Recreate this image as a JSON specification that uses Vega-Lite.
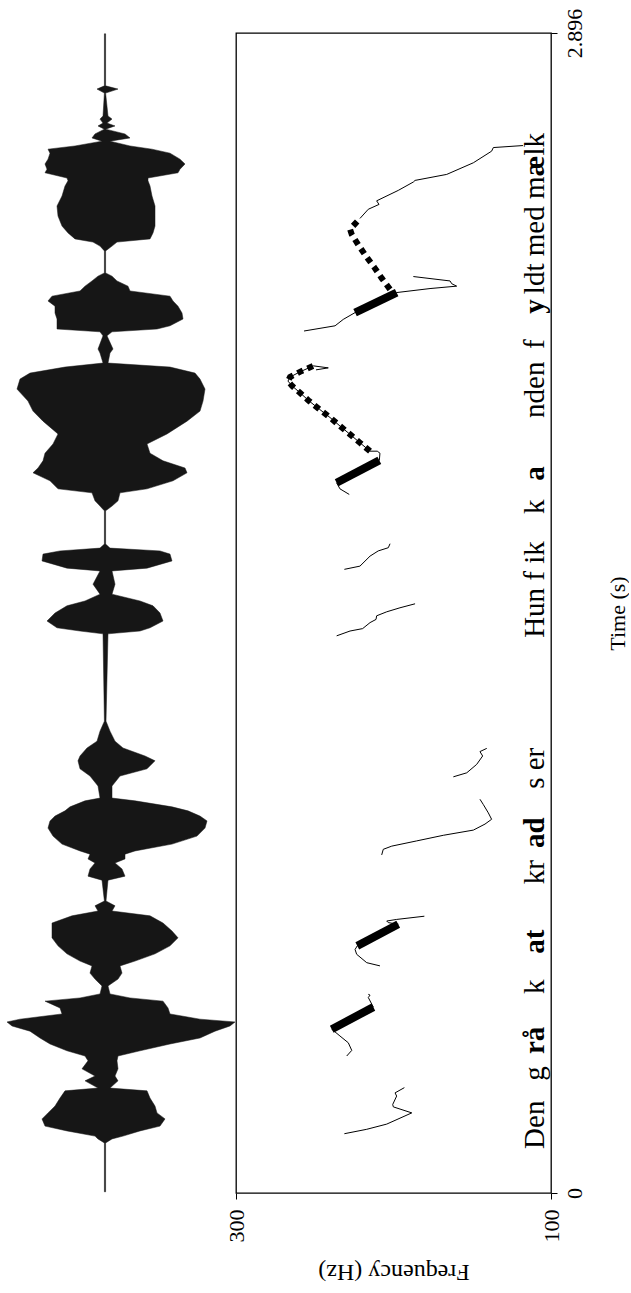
{
  "$schema": "https://vega.github.io/schema/vega-lite/v6.json",
  "padding": {"left": 0, "top": 7, "right": 0, "bottom": 0},
  "background": "white",
  "config": {
    "font": "Liberation Serif",
    "axis": {"labelFont": "Liberation Serif", "titleFont": "Liberation Serif", "labelColor": "black", "titleColor": "black", "tickColor": "black", "domainColor": "black", "titleFontWeight": "normal"}
  },
  "datasets": {
    "wave": [
      {"t":2.894,"lo":-0.6,"hi":0.6},{"t":2.764,"lo":-0.6,"hi":0.6},{"t":2.756,"lo":-8,"hi":13},{"t":2.746,"lo":-0.6,"hi":0.6},
      {"t":2.689,"lo":-2,"hi":3},{"t":2.681,"lo":-5,"hi":7},{"t":2.671,"lo":-2,"hi":2},{"t":2.664,"lo":-7,"hi":10},
      {"t":2.656,"lo":-0.6,"hi":0.6},{"t":2.644,"lo":-10,"hi":20},{"t":2.634,"lo":-13,"hi":25},{"t":2.626,"lo":-3,"hi":5},
      {"t":2.614,"lo":-30,"hi":25},{"t":2.606,"lo":-57,"hi":47},{"t":2.596,"lo":-55,"hi":65},{"t":2.581,"lo":-57,"hi":75},
      {"t":2.569,"lo":-60,"hi":80},{"t":2.556,"lo":-58,"hi":75},{"t":2.547,"lo":-60,"hi":73},{"t":2.534,"lo":-38,"hi":43},
      {"t":2.527,"lo":-37,"hi":43},{"t":2.514,"lo":-40,"hi":45},{"t":2.489,"lo":-43,"hi":47},{"t":2.464,"lo":-48,"hi":50},
      {"t":2.439,"lo":-47,"hi":50},{"t":2.414,"lo":-43,"hi":50},{"t":2.397,"lo":-37,"hi":48},{"t":2.382,"lo":-30,"hi":45},
      {"t":2.374,"lo":-12,"hi":12},{"t":2.364,"lo":-5,"hi":7},{"t":2.352,"lo":-0.6,"hi":0.6},{"t":2.297,"lo":-0.6,"hi":0.6},
      {"t":2.289,"lo":-7,"hi":7},{"t":2.277,"lo":-13,"hi":12},{"t":2.264,"lo":-20,"hi":23},{"t":2.252,"lo":-25,"hi":25},
      {"t":2.239,"lo":-53,"hi":65},{"t":2.227,"lo":-57,"hi":68},{"t":2.214,"lo":-50,"hi":73},{"t":2.197,"lo":-50,"hi":77},
      {"t":2.182,"lo":-48,"hi":78},{"t":2.165,"lo":-48,"hi":65},{"t":2.157,"lo":-48,"hi":52},{"t":2.150,"lo":-5,"hi":7},
      {"t":2.140,"lo":-2,"hi":2},{"t":2.107,"lo":-7,"hi":8},{"t":2.097,"lo":-5,"hi":5},{"t":2.072,"lo":-2,"hi":3},
      {"t":2.062,"lo":-40,"hi":65},{"t":2.047,"lo":-75,"hi":90},{"t":2.032,"lo":-85,"hi":95},{"t":2.007,"lo":-88,"hi":100},
      {"t":1.977,"lo":-77,"hi":98},{"t":1.952,"lo":-72,"hi":95},{"t":1.927,"lo":-62,"hi":82},{"t":1.895,"lo":-47,"hi":62},
      {"t":1.870,"lo":-52,"hi":42},{"t":1.847,"lo":-60,"hi":45},{"t":1.828,"lo":-62,"hi":58},{"t":1.810,"lo":-67,"hi":80},
      {"t":1.798,"lo":-72,"hi":82},{"t":1.778,"lo":-55,"hi":68},{"t":1.758,"lo":-47,"hi":42},{"t":1.748,"lo":-13,"hi":15},
      {"t":1.728,"lo":-10,"hi":13},{"t":1.715,"lo":-5,"hi":7},{"t":1.703,"lo":-0.6,"hi":0.6},{"t":1.620,"lo":-0.6,"hi":0.6},
      {"t":1.610,"lo":-5,"hi":5},{"t":1.603,"lo":-45,"hi":55},{"t":1.595,"lo":-62,"hi":65},{"t":1.578,"lo":-63,"hi":67},
      {"t":1.560,"lo":-38,"hi":42},{"t":1.553,"lo":-5,"hi":7},{"t":1.520,"lo":-12,"hi":10},{"t":1.495,"lo":-5,"hi":7},
      {"t":1.478,"lo":-20,"hi":35},{"t":1.466,"lo":-38,"hi":48},{"t":1.448,"lo":-50,"hi":55},{"t":1.428,"lo":-58,"hi":58},
      {"t":1.411,"lo":-48,"hi":45},{"t":1.403,"lo":-25,"hi":35},{"t":1.396,"lo":-2,"hi":3},{"t":1.178,"lo":-0.6,"hi":1},
      {"t":1.153,"lo":-5,"hi":5},{"t":1.128,"lo":-8,"hi":10},{"t":1.111,"lo":-18,"hi":18},{"t":1.091,"lo":-25,"hi":40},
      {"t":1.079,"lo":-27,"hi":50},{"t":1.059,"lo":-25,"hi":42},{"t":1.041,"lo":-15,"hi":15},{"t":1.016,"lo":-7,"hi":7},
      {"t":0.986,"lo":-5,"hi":7},{"t":0.979,"lo":-20,"hi":30},{"t":0.964,"lo":-35,"hi":67},{"t":0.954,"lo":-40,"hi":83},
      {"t":0.941,"lo":-50,"hi":95},{"t":0.929,"lo":-55,"hi":102},{"t":0.911,"lo":-57,"hi":100},{"t":0.891,"lo":-52,"hi":92},
      {"t":0.871,"lo":-43,"hi":67},{"t":0.854,"lo":-25,"hi":30},{"t":0.846,"lo":-15,"hi":20},{"t":0.834,"lo":-17,"hi":20},
      {"t":0.824,"lo":-10,"hi":10},{"t":0.809,"lo":-15,"hi":17},{"t":0.791,"lo":-17,"hi":20},{"t":0.781,"lo":-3,"hi":3},
      {"t":0.729,"lo":-0.6,"hi":1},{"t":0.717,"lo":-10,"hi":10},{"t":0.704,"lo":-7,"hi":7},{"t":0.692,"lo":-33,"hi":45},
      {"t":0.674,"lo":-53,"hi":58},{"t":0.654,"lo":-53,"hi":67},{"t":0.637,"lo":-53,"hi":73},{"t":0.617,"lo":-47,"hi":65},
      {"t":0.597,"lo":-38,"hi":50},{"t":0.579,"lo":-25,"hi":30},{"t":0.567,"lo":-13,"hi":15},{"t":0.549,"lo":-15,"hi":17},
      {"t":0.534,"lo":-10,"hi":13},{"t":0.517,"lo":-3,"hi":3},{"t":0.497,"lo":-5,"hi":5},{"t":0.487,"lo":-25,"hi":25},
      {"t":0.479,"lo":-60,"hi":58},{"t":0.462,"lo":-45,"hi":63},{"t":0.447,"lo":-43,"hi":65},{"t":0.434,"lo":-85,"hi":95},
      {"t":0.427,"lo":-98,"hi":130},{"t":0.417,"lo":-93,"hi":125},{"t":0.404,"lo":-75,"hi":110},{"t":0.387,"lo":-65,"hi":95},
      {"t":0.372,"lo":-55,"hi":65},{"t":0.355,"lo":-38,"hi":35},{"t":0.342,"lo":-20,"hi":13},{"t":0.330,"lo":-17,"hi":12},
      {"t":0.310,"lo":-23,"hi":13},{"t":0.292,"lo":-10,"hi":10},{"t":0.280,"lo":-20,"hi":13},{"t":0.262,"lo":-7,"hi":5},
      {"t":0.255,"lo":-40,"hi":42},{"t":0.237,"lo":-45,"hi":45},{"t":0.217,"lo":-50,"hi":50},{"t":0.200,"lo":-57,"hi":52},
      {"t":0.185,"lo":-63,"hi":60},{"t":0.167,"lo":-60,"hi":55},{"t":0.155,"lo":-38,"hi":35},{"t":0.142,"lo":-10,"hi":18},
      {"t":0.135,"lo":-7,"hi":7},{"t":0.125,"lo":-0.6,"hi":0.6},{"t":0.003,"lo":-0.6,"hi":0.6}
    ],
    "thin": [
      {"seg":"A","i":1,"f":231.2,"t":0.148},{"seg":"A","i":2,"f":217.0,"t":0.159},{"seg":"A","i":3,"f":204.3,"t":0.172},
      {"seg":"A","i":4,"f":188.4,"t":0.200},{"seg":"A","i":5,"f":200.1,"t":0.215},{"seg":"A","i":6,"f":200.5,"t":0.221},
      {"seg":"A","i":7,"f":198.0,"t":0.242},{"seg":"A","i":8,"f":199.0,"t":0.250},{"seg":"A","i":9,"f":193.1,"t":0.263},
      {"seg":"B","i":1,"f":229.7,"t":0.342},{"seg":"B","i":2,"f":226.5,"t":0.356},{"seg":"B","i":3,"f":228.7,"t":0.375},
      {"seg":"B","i":4,"f":234.0,"t":0.392},{"seg":"B","i":5,"f":239.2,"t":0.409},{"seg":"B","i":6,"f":226.3,"t":0.437},
      {"seg":"B","i":7,"f":212.8,"t":0.464},{"seg":"B","i":8,"f":216.0,"t":0.488},{"seg":"B","i":9,"f":214.9,"t":0.494},
      {"seg":"B","i":10,"f":216.0,"t":0.496},
      {"seg":"C","i":1,"f":208.6,"t":0.567},{"seg":"C","i":2,"f":217.0,"t":0.575},{"seg":"C","i":3,"f":223.4,"t":0.596},
      {"seg":"C","i":4,"f":224.4,"t":0.608},{"seg":"C","i":5,"f":223.0,"t":0.617},{"seg":"C","i":6,"f":209.8,"t":0.644},
      {"seg":"C","i":7,"f":197.0,"t":0.671},{"seg":"C","i":8,"f":203.3,"t":0.675},{"seg":"C","i":9,"f":204.3,"t":0.679},
      {"seg":"C","i":10,"f":198.0,"t":0.683},{"seg":"C","i":11,"f":180.4,"t":0.691},
      {"seg":"D","i":1,"f":207.5,"t":0.844},{"seg":"D","i":2,"f":206.5,"t":0.858},{"seg":"D","i":3,"f":201.1,"t":0.866},
      {"seg":"D","i":4,"f":185.3,"t":0.879},{"seg":"D","i":5,"f":168.4,"t":0.893},{"seg":"D","i":6,"f":149.3,"t":0.906},
      {"seg":"D","i":7,"f":141.9,"t":0.921},{"seg":"D","i":8,"f":137.7,"t":0.933},{"seg":"D","i":9,"f":139.8,"t":0.949},
      {"seg":"D","i":10,"f":143.0,"t":0.970},{"seg":"D","i":11,"f":145.1,"t":0.983},
      {"seg":"E","i":1,"f":162.0,"t":1.039},{"seg":"E","i":2,"f":153.5,"t":1.049},{"seg":"E","i":3,"f":147.2,"t":1.070},
      {"seg":"E","i":4,"f":143.4,"t":1.091},{"seg":"E","i":5,"f":145.1,"t":1.102},{"seg":"E","i":6,"f":140.8,"t":1.110},
      {"seg":"F","i":1,"f":236.1,"t":1.391},{"seg":"F","i":2,"f":227.6,"t":1.403},{"seg":"F","i":3,"f":219.6,"t":1.409},
      {"seg":"F","i":4,"f":214.9,"t":1.424},{"seg":"F","i":5,"f":211.1,"t":1.432},{"seg":"F","i":6,"f":210.7,"t":1.441},
      {"seg":"F","i":7,"f":204.3,"t":1.451},{"seg":"F","i":8,"f":195.9,"t":1.461},{"seg":"F","i":9,"f":186.3,"t":1.471},
      {"seg":"G","i":1,"f":231.2,"t":1.557},{"seg":"G","i":2,"f":221.3,"t":1.565},{"seg":"G","i":3,"f":214.9,"t":1.590},
      {"seg":"G","i":4,"f":209.7,"t":1.603},{"seg":"G","i":5,"f":203.3,"t":1.611},{"seg":"G","i":6,"f":202.2,"t":1.621},
      {"seg":"H","i":1,"f":228.1,"t":1.744},{"seg":"H","i":2,"f":234.0,"t":1.758},{"seg":"H","i":3,"f":236.1,"t":1.773},
      {"seg":"H","i":4,"f":222.5,"t":1.801},{"seg":"H","i":5,"f":209.0,"t":1.829},{"seg":"H","i":6,"f":208.6,"t":1.847},
      {"seg":"H","i":7,"f":210.3,"t":1.852},{"seg":"H","i":8,"f":214.9,"t":1.852},{"seg":"H","i":9,"f":221.3,"t":1.873},
      {"seg":"H","i":10,"f":227.6,"t":1.894},{"seg":"H","i":11,"f":234.0,"t":1.915},{"seg":"H","i":12,"f":240.3,"t":1.936},
      {"seg":"H","i":13,"f":247.1,"t":1.957},{"seg":"H","i":14,"f":253.5,"t":1.977},{"seg":"H","i":15,"f":259.4,"t":1.998},
      {"seg":"H","i":16,"f":264.4,"t":2.015},{"seg":"H","i":17,"f":267.0,"t":2.027},{"seg":"H","i":18,"f":265.7,"t":2.037},
      {"seg":"H","i":19,"f":259.4,"t":2.050},{"seg":"H","i":20,"f":250.9,"t":2.065},{"seg":"H","i":21,"f":241.4,"t":2.060},
      {"seg":"H","i":22,"f":249.2,"t":2.055},
      {"seg":"I1","i":1,"f":256.8,"t":2.152},{"seg":"I1","i":2,"f":237.1,"t":2.165},{"seg":"I1","i":3,"f":231.9,"t":2.181},
      {"seg":"I1","i":4,"f":224.4,"t":2.198},{"seg":"I1","i":5,"f":211.1,"t":2.223},{"seg":"I1","i":6,"f":198.0,"t":2.248},
      {"seg":"I2","i":1,"f":198.0,"t":2.248},{"seg":"I2","i":2,"f":176.8,"t":2.258},{"seg":"I2","i":3,"f":159.9,"t":2.264},
      {"seg":"I2","i":4,"f":163.0,"t":2.270},{"seg":"I2","i":5,"f":164.1,"t":2.277},{"seg":"I2","i":6,"f":187.4,"t":2.288},
      {"seg":"I3","i":1,"f":221.3,"t":2.433},{"seg":"I3","i":2,"f":216.0,"t":2.456},{"seg":"I3","i":3,"f":209.2,"t":2.468},
      {"seg":"I3","i":4,"f":210.7,"t":2.477},{"seg":"I3","i":5,"f":197.0,"t":2.503},{"seg":"I3","i":6,"f":187.4,"t":2.524},
      {"seg":"I3","i":7,"f":186.3,"t":2.528},{"seg":"I3","i":8,"f":166.2,"t":2.543},{"seg":"I3","i":9,"f":149.3,"t":2.572},
      {"seg":"I3","i":10,"f":137.7,"t":2.601},{"seg":"I3","i":11,"f":136.6,"t":2.610},{"seg":"I3","i":12,"f":117.8,"t":2.615}
    ],
    "thick": [
      {"seg":"B","i":1,"f":239.2,"t":0.409},{"seg":"B","i":2,"f":212.8,"t":0.464},
      {"seg":"C","i":1,"f":223.0,"t":0.617},{"seg":"C","i":2,"f":197.0,"t":0.671},
      {"seg":"H","i":1,"f":236.1,"t":1.773},{"seg":"H","i":2,"f":209.0,"t":1.829},
      {"seg":"I","i":1,"f":224.4,"t":2.198},{"seg":"I","i":2,"f":198.0,"t":2.248}
    ],
    "dotted": [
      {"seg":"H","i":1,"f":214.9,"t":1.852},{"seg":"H","i":2,"f":221.3,"t":1.873},{"seg":"H","i":3,"f":227.6,"t":1.894},
      {"seg":"H","i":4,"f":234.0,"t":1.915},{"seg":"H","i":5,"f":240.3,"t":1.936},{"seg":"H","i":6,"f":247.1,"t":1.957},
      {"seg":"H","i":7,"f":253.5,"t":1.977},{"seg":"H","i":8,"f":259.4,"t":1.998},{"seg":"H","i":9,"f":264.4,"t":2.015},
      {"seg":"H","i":10,"f":267.0,"t":2.027},{"seg":"H","i":11,"f":265.7,"t":2.037},{"seg":"H","i":12,"f":259.4,"t":2.050},
      {"seg":"H","i":13,"f":250.9,"t":2.065},
      {"seg":"I","i":1,"f":202.2,"t":2.256},{"seg":"I","i":2,"f":207.5,"t":2.284},{"seg":"I","i":3,"f":212.4,"t":2.312},
      {"seg":"I","i":4,"f":217.5,"t":2.339},{"seg":"I","i":5,"f":222.3,"t":2.367},{"seg":"I","i":6,"f":226.5,"t":2.393},
      {"seg":"I","i":7,"f":227.6,"t":2.406},{"seg":"I","i":8,"f":221.3,"t":2.433}
    ],
    "words": [
      {"w":"Den","t":0.110,"stress":false},{"w":"g","t":0.280,"stress":false},{"w":"rå","t":0.347,"stress":true},
      {"w":"k","t":0.497,"stress":false},{"w":"at","t":0.597,"stress":true},{"w":"kr","t":0.771,"stress":false},
      {"w":"ad","t":0.861,"stress":true},{"w":"s er","t":1.009,"stress":false},{"w":"Hun f ik","t":1.386,"stress":false},
      {"w":"k","t":1.695,"stress":false},{"w":"a","t":1.778,"stress":true},{"w":"nden","t":1.935,"stress":false},
      {"w":"f","t":2.107,"stress":false},{"w":"y","t":2.195,"stress":true},{"w":"ldt med m","t":2.244,"stress":false},
      {"w":"æ","t":2.538,"stress":true},{"w":"lk","t":2.590,"stress":false}
    ]
  },
  "hconcat": [
    {
      "width": 236,
      "height": 1160,
      "view": {"stroke": null},
      "data": {"name": "wave"},
      "mark": {"type": "area", "orient": "horizontal", "color": "#161616", "stroke": "#161616", "strokeWidth": 0.5},
      "encoding": {
        "y": {"field": "t", "type": "quantitative", "scale": {"domain": [0, 2.896], "nice": false, "zero": false}, "axis": null},
        "x": {"field": "lo", "type": "quantitative", "scale": {"domain": [-105, 131], "nice": false, "zero": false}, "axis": null},
        "x2": {"field": "hi"}
      }
    },
    {
      "width": 315,
      "height": 1160,
      "view": {"stroke": "black", "strokeWidth": 1.3},
      "layer": [
        {
          "data": {"name": "thin"},
          "mark": {"type": "line", "color": "black", "strokeWidth": 1},
          "encoding": {
            "y": {"field": "t", "type": "quantitative", "scale": {"domain": [0, 2.896], "nice": false, "zero": false},
              "axis": {"orient": "right", "values": [0, 2.896], "format": ".4~f", "grid": false, "domain": false, "tickSize": 6,
                "labelAngle": 270, "labelAlign": "center", "labelBaseline": "top", "labelPadding": 7, "labelFontSize": 22,
                "title": "Time (s)", "titleFontSize": 22, "titleAngle": 270, "titleAlign": "center", "titleBaseline": "middle",
                "titleX": 66, "titleY": 580}},
            "x": {"field": "f", "type": "quantitative", "scale": {"domain": [100, 300], "reverse": true, "nice": false, "zero": false},
              "axis": {"orient": "bottom", "values": [100, 300], "format": "d", "grid": false, "domain": false, "tickSize": 6,
                "labelAngle": 270, "labelAlign": "right", "labelBaseline": "middle", "labelPadding": 10, "labelFontSize": 22,
                "title": "Frequency (Hz)", "titleFontSize": 24, "titleAngle": 180, "titleAlign": "center", "titleBaseline": "middle",
                "titleX": 157.5, "titleY": 78}},
            "detail": {"field": "seg"},
            "order": {"field": "i", "type": "quantitative"}
          }
        },
        {
          "data": {"name": "thick"},
          "mark": {"type": "line", "color": "black", "strokeWidth": 8, "strokeCap": "butt"},
          "encoding": {
            "y": {"field": "t", "type": "quantitative"},
            "x": {"field": "f", "type": "quantitative"},
            "detail": {"field": "seg"},
            "order": {"field": "i", "type": "quantitative"}
          }
        },
        {
          "data": {"name": "dotted"},
          "mark": {"type": "line", "color": "black", "strokeWidth": 6, "strokeDash": [6, 5], "strokeCap": "butt"},
          "encoding": {
            "y": {"field": "t", "type": "quantitative"},
            "x": {"field": "f", "type": "quantitative"},
            "detail": {"field": "seg"},
            "order": {"field": "i", "type": "quantitative"}
          }
        },
        {
          "data": {"name": "words"},
          "transform": [{"filter": "!datum.stress"}],
          "mark": {"type": "text", "angle": 270, "align": "left", "baseline": "alphabetic", "font": "Liberation Serif", "fontSize": 29, "fill": "black"},
          "encoding": {
            "y": {"field": "t", "type": "quantitative"},
            "x": {"datum": 104.5, "type": "quantitative"},
            "text": {"field": "w", "type": "nominal"}
          }
        },
        {
          "data": {"name": "words"},
          "transform": [{"filter": "datum.stress"}],
          "mark": {"type": "text", "angle": 270, "align": "left", "baseline": "alphabetic", "font": "Liberation Serif", "fontSize": 29, "fontWeight": "bold", "fill": "black"},
          "encoding": {
            "y": {"field": "t", "type": "quantitative"},
            "x": {"datum": 104.5, "type": "quantitative"},
            "text": {"field": "w", "type": "nominal"}
          }
        }
      ]
    }
  ],
  "spacing": 0,
  "bounds": "flush"
}
